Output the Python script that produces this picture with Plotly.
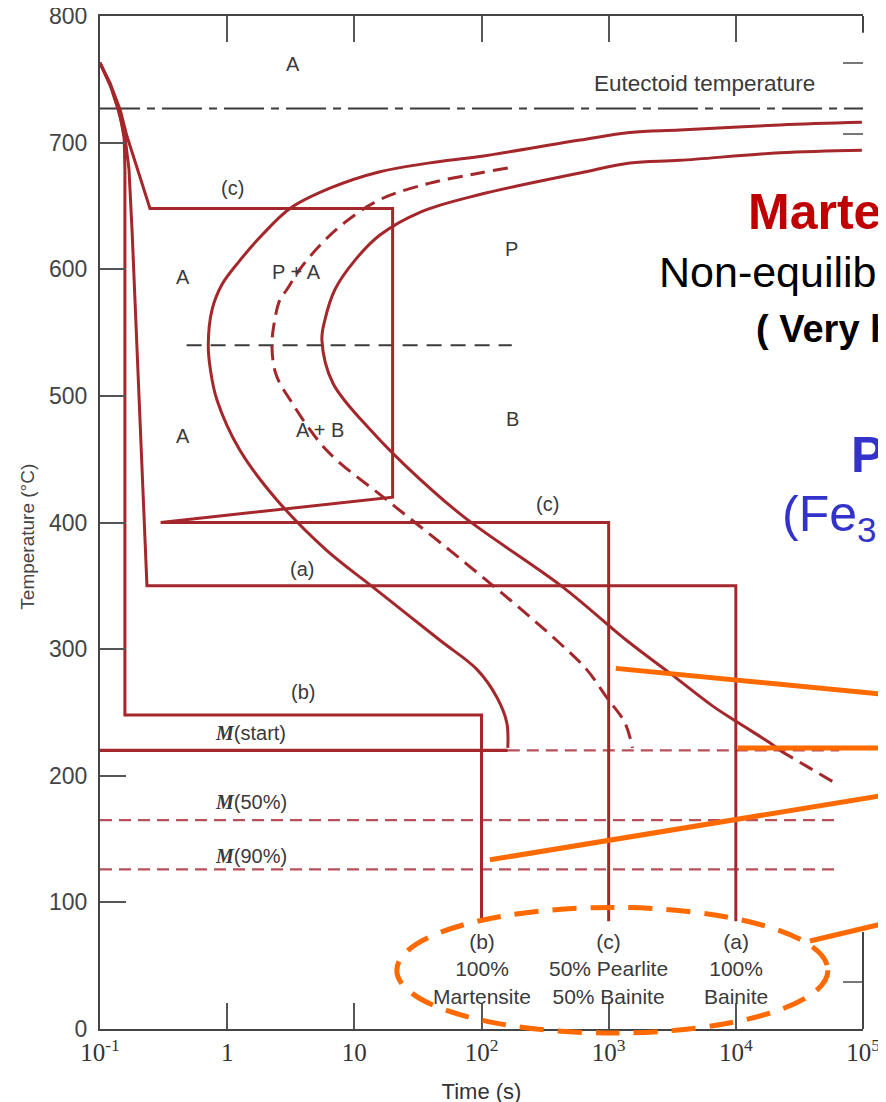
import math
import plotly.graph_objects as go

# TTT diagram of an eutectoid steel
# time in s, temperature in degC

eutectoid_T = 727
ms_T, m50_T, m90_T = 220, 165, 126
m_end_t = 65000
ms_solid_end_t = 161

# start of transformation (solid C curve)
start_t = [98000, 22200, 3630, 1470, 594, 97, 39.3, 15.9, 6.43, 3.12, 1.88, 1.26, 0.91, 0.76,
           0.71, 0.74, 0.83, 1.26, 2.45, 6.06, 14.0, 47.1, 92, 132, 158, 161]
start_T = [716, 714, 710, 708, 702, 689, 684, 677, 664, 648, 627, 607, 588, 568,
           540, 520, 497, 457, 418, 378, 349, 307, 284, 262, 242, 222]

# 50% line (dashed C curve)
mid_t = [161, 97, 39.3, 15.9, 8.43, 5.37, 3.73, 2.95, 2.60, 2.33, 2.25, 2.42, 3.12, 6.06,
         17.9, 56.4, 167, 389, 670, 962, 1340, 1540]
mid_T = [680, 676, 668, 655, 637, 619, 600, 584, 576, 556, 539, 517, 497, 457,
         418, 378, 339, 307, 284, 262, 242, 222]

# end of transformation
fin_t = [98000, 22200, 3630, 1470, 594, 97, 32.8, 15.9, 10.1, 7.04, 5.87, 5.56, 6.79, 14.0,
         25.8, 71.4, 436, 1380, 3030, 6590, 10400, 18500, 22200]
fin_T = [694, 692, 686, 684, 676, 659, 645, 627, 607, 584, 560, 544, 510, 471,
         444, 405, 349, 307, 281, 255, 242, 226, 220]
fin_tail_t = [22200, 38200, 63400]
fin_tail_T = [220, 206, 193]

# cooling paths
path_a_t = [0.1, 0.12, 0.139, 0.157, 0.169, 0.179, 0.234, 1e4, 1e4]
path_a_T = [763, 746, 726, 705, 679, 629, 350, 350, 85]
path_b_t = [0.1, 0.124, 0.144, 0.155, 0.157, 0.157, 100, 100]
path_b_T = [763, 742, 722, 703, 679, 248, 248, 85]
path_c_t = [0.1, 0.12, 0.144, 0.163, 0.206, 0.247, 20, 20, 0.3, 1000, 1000]
path_c_T = [763, 747, 726, 705, 673, 648, 648, 420, 400, 400, 85]

nose_t = [0.48, 173]
nose_T = [540, 540]

x_ticks = [0.1, 1, 10, 100, 1000, 10000, 100000]
x_ticktext = ["10<sup>-1</sup>", "1", "10", "10<sup>2</sup>", "10<sup>3</sup>", "10<sup>4</sup>", "10<sup>5</sup>"]
y_ticks = [0, 100, 200, 300, 400, 500, 600, 700, 800]
f_ticks = [100, 1300, 1400]   # right-hand degF ticks still visible

# (text, log10 t, T)
region_labels = [("A", 0.517, 762), ("(c)", 0.038, 664), ("A", -0.347, 594), ("P + A", 0.549, 598),
                 ("P", 2.239, 616), ("A", -0.347, 468), ("A + B", 0.730, 473), ("B", 2.247, 482),
                 ("(c)", 2.522, 415), ("(a)", 0.588, 363), ("(b)", 0.596, 266)]
m_labels = [("(start)", ms_T + 14), ("(50%)", m50_T + 14), ("(90%)", m90_T + 11)]
outcomes = [(100, "(b)<br>100%<br>Martensite"), (1000, "(c)<br>50% Pearlite<br>50% Bainite"),
            (10000, "(a)<br>100%<br>Bainite")]

RED = "#A3272B"
RED_LIGHT = "#B8505A"
GREY = "#3a3a3a"
ORANGE = "#FF6A00"
SANS = "Liberation Sans, Arial, sans-serif"
NARROW = "Liberation Sans Narrow, Arial Narrow, Liberation Sans, sans-serif"

fig = go.Figure()

def line(x, y, color=RED, width=3, dash="solid", shape="linear", yaxis="y"):
    fig.add_trace(go.Scatter(x=x, y=y, mode="lines", yaxis=yaxis,
                             line=dict(color=color, width=width, dash=dash, shape=shape),
                             showlegend=False, hoverinfo="skip"))

line([0.1, 1e5], [eutectoid_T] * 2, color=GREY, width=2, dash="40px,7px,8px,7px")
line(nose_t, nose_T, color=GREY, width=2, dash="15px,9px")
line([ms_solid_end_t, m_end_t], [ms_T] * 2, color=RED_LIGHT, width=2.2, dash="12px,7px")
line([0.1, m_end_t], [m50_T] * 2, color=RED_LIGHT, width=2.2, dash="12px,7px")
line([0.1, m_end_t], [m90_T] * 2, color=RED_LIGHT, width=2.2, dash="12px,7px")
line([0.1, ms_solid_end_t], [ms_T] * 2, width=3.2)

line(start_t, start_T, shape="spline")
line(mid_t, mid_T, dash="15px,8px", shape="spline")
line(fin_t, fin_T, shape="spline")
line(fin_tail_t, fin_tail_T, dash="15px,8px", shape="spline")

line(path_a_t, path_a_T)
line(path_b_t, path_b_T)
line(path_c_t, path_c_T)

# dummy trace so that the right (degF) axis is drawn
fig.add_trace(go.Scatter(x=[None], y=[None], yaxis="y2", showlegend=False, hoverinfo="skip"))

ann = []
for txt, lx, T in region_labels:
    ann.append(dict(x=lx, y=T, text=txt, showarrow=False, font=dict(family=SANS, size=20, color=GREY)))
for txt, T in m_labels:
    ann.append(dict(x=0.187, y=T, showarrow=False, font=dict(family=SANS, size=20, color=GREY),
                    text="<span style='font-family:Liberation Serif'><b><i>M</i></b></span>" + txt))
ann.append(dict(x=3.756, y=747, text="Eutectoid temperature", showarrow=False,
                font=dict(family=SANS, size=22.5, color=GREY)))
for t, txt in outcomes:
    ann.append(dict(x=math.log10(t), y=80, yanchor="top", text=txt, showarrow=False,
                    font=dict(family=NARROW, size=21, color=GREY)))
ann.append(dict(xref="paper", yref="paper", x=-0.0944, y=0.486, xanchor="center", yanchor="middle",
                text="Temperature (°C)", textangle=-90,
                showarrow=False, font=dict(family=SANS, size=19, color="#444")))

# overlay texts (cut at the right edge of the picture)
over = dict(xref="paper", yref="paper", xanchor="left", yanchor="middle", showarrow=False)
ann += [
    dict(over, x=0.8465, y=0.8065, text="<b>Martensite</b>", font=dict(family=SANS, size=50, color="#C00000")),
    dict(over, x=0.7298, y=0.7468, text="Non-equilibrium phase", font=dict(family=SANS, size=43, color="black")),
    dict(over, x=0.857, y=0.691, text="<b>( Very hard )</b>", font=dict(family=SANS, size=38, color="black")),
    dict(over, x=0.982, y=0.5666, text="<b>Pearlite</b>", font=dict(family=SANS, size=50, color="#3333CC")),
    dict(over, x=0.891, y=0.5045, text="(Fe<sub>3</sub>C + α-Fe)", font=dict(family=SANS, size=50, color="#3333CC")),
]

shapes = [
    # right frame, partly hidden in the picture
    dict(type="line", xref="paper", yref="y", x0=1, x1=1, y0=786.7, y1=800, line=dict(color="#444", width=2)),
    dict(type="line", xref="paper", yref="y", x0=1, x1=1, y0=0, y1=76.6, line=dict(color="#444", width=2)),
    # orange call-outs
    dict(type="line", xref="paper", yref="paper", x0=0.676, y0=0.356, x1=1.048, y1=0.329,
         line=dict(color=ORANGE, width=5)),
    dict(type="line", xref="paper", yref="paper", x0=0.836, y0=0.2774, x1=1.048, y1=0.2774,
         line=dict(color=ORANGE, width=5)),
    dict(type="line", xref="paper", yref="paper", x0=0.511, y0=0.167, x1=1.048, y1=0.2333,
         line=dict(color=ORANGE, width=5)),
    dict(type="line", xref="paper", yref="paper", x0=0.9305, y0=0.0869, x1=1.048, y1=0.1079,
         line=dict(color=ORANGE, width=5)),
    dict(type="circle", xref="paper", yref="paper", x0=0.389, x1=0.954, y0=-0.004, y1=0.120,
         line=dict(color=ORANGE, width=5, dash="24px,14px")),
]

# the page body keeps an 8px margin, so the margins are trimmed by 8px
fig.update_layout(
    width=886, height=1102,
    margin=dict(l=92, r=31, t=8, b=81, autoexpand=False),
    plot_bgcolor="white", paper_bgcolor="white",
    font=dict(family=SANS, color="#444"),
    annotations=ann, shapes=shapes,
    xaxis=dict(type="log", range=[-1, 5], tickvals=x_ticks, ticktext=x_ticktext, automargin=False,
               ticks="inside", ticklen=26, tickwidth=1.5, tickcolor="#555", ticklabeloverflow="allow",
               showline=True, linecolor="#444", linewidth=2, mirror="ticks", showgrid=False, zeroline=False,
               tickfont=dict(family="Liberation Serif, Times New Roman, serif", size=25, color="#333"),
               title=dict(text="Time (s)", font=dict(family=NARROW, size=22, color="#333"), standoff=19)),
    yaxis=dict(range=[0, 800], tickvals=y_ticks, ticks="inside", ticklen=26, tickwidth=1.5, tickcolor="#555",
               showline=True, linecolor="#444", linewidth=2, mirror=False, showgrid=False, zeroline=False,
               automargin=False, tickfont=dict(family=SANS, size=23, color="#444"), ticklabelstandoff=6,
               ticklabeloverflow="allow"),
    yaxis2=dict(overlaying="y", side="right", range=[33.5, 1466.5], tickvals=f_ticks, ticks="inside",
                ticklen=20, tickwidth=1.5, tickcolor="#777", showticklabels=False, showline=False,
                showgrid=False, zeroline=False, automargin=False),
)

fig.write_html("out.html")
